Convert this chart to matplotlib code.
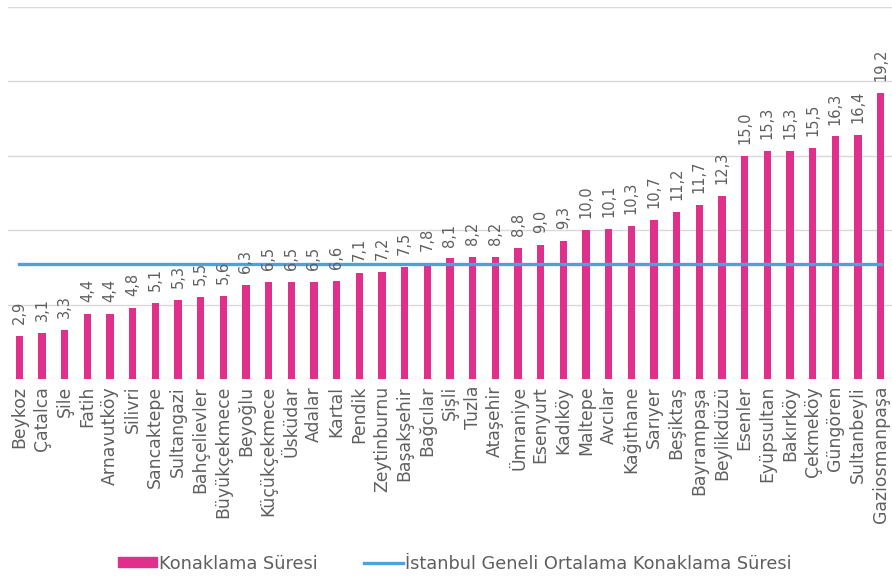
import numpy as np
import matplotlib.pyplot as plt
from matplotlib.patches import Patch
from matplotlib.lines import Line2D

districts = ['Beykoz', 'Çatalca', 'Şile', 'Fatih', 'Arnavutköy', 'Silivri', 'Sancaktepe',
             'Sultangazi', 'Bahçelievler', 'Büyükçekmece', 'Beyoğlu', 'Küçükçekmece',
             'Üsküdar', 'Adalar', 'Kartal', 'Pendik', 'Zeytinburnu', 'Başakşehir', 'Bağcılar',
             'Şişli', 'Tuzla', 'Ataşehir', 'Ümraniye', 'Esenyurt', 'Kadıköy', 'Maltepe',
             'Avcılar', 'Kağıthane', 'Sarıyer', 'Beşiktaş', 'Bayrampaşa', 'Beylikdüzü',
             'Esenler', 'Eyüpsultan', 'Bakırköy', 'Çekmeköy', 'Güngören', 'Sultanbeyli',
             'Gaziosmanpaşa']
stay = [2.9, 3.1, 3.3, 4.4, 4.4, 4.8, 5.1, 5.3, 5.5, 5.6, 6.3, 6.5, 6.5, 6.5, 6.6, 7.1,
        7.2, 7.5, 7.8, 8.1, 8.2, 8.2, 8.8, 9.0, 9.3, 10.0, 10.1, 10.3, 10.7, 11.2, 11.7,
        12.3, 15.0, 15.3, 15.3, 15.5, 16.3, 16.4, 19.2]
istanbul_avg = 7.7

BAR_COLOR = '#e0308b'
LINE_COLOR = '#4aa3dc'
TEXT_COLOR = '#5f5f5f'

fig = plt.figure(figsize=(8.92, 5.77), dpi=100)
ax = fig.add_axes([8 / 892, 1 - 379 / 577, 1 - 8 / 892, 372 / 577])

x = np.arange(len(districts))
ax.bar(x, stay, width=0.32, color=BAR_COLOR, zorder=2)
ax.plot(x, [istanbul_avg] * len(x), color=LINE_COLOR, lw=2.4, zorder=3)

for xi, v in zip(x, stay):
    ax.text(xi, v + 0.8, f'{v:.1f}'.replace('.', ','), rotation=90, ha='center',
            va='bottom', fontsize=10.5, color=TEXT_COLOR)

ax.set_xlim(-0.5, len(x) - 0.5)
ax.set_ylim(0, 25)
ax.set_yticks(np.arange(0, 26, 5))
ax.set_yticklabels([])
ax.tick_params(axis='y', length=0)
ax.tick_params(axis='x', length=0, pad=5)
ax.set_xticks(x)
ax.set_xticklabels(districts, rotation=90, fontsize=12.4, color=TEXT_COLOR)
ax.grid(axis='y', color='#d9d9d9', lw=1, zorder=0)
for s in ax.spines.values():
    s.set_visible(False)

handles = [Patch(color=BAR_COLOR), Line2D([0], [0], color=LINE_COLOR, lw=2.4)]
fig.legend(handles, ['Konaklama Süresi', 'İstanbul Geneli Ortalama Konaklama Süresi'],
           loc='lower center', bbox_to_anchor=(0.51, -0.02), ncol=2, frameon=False,
           fontsize=12.8, labelcolor=TEXT_COLOR, handlelength=2.2, handleheight=0.5,
           handletextpad=0.1, columnspacing=2.6)

fig.savefig('out.png', dpi=100, facecolor='white')
